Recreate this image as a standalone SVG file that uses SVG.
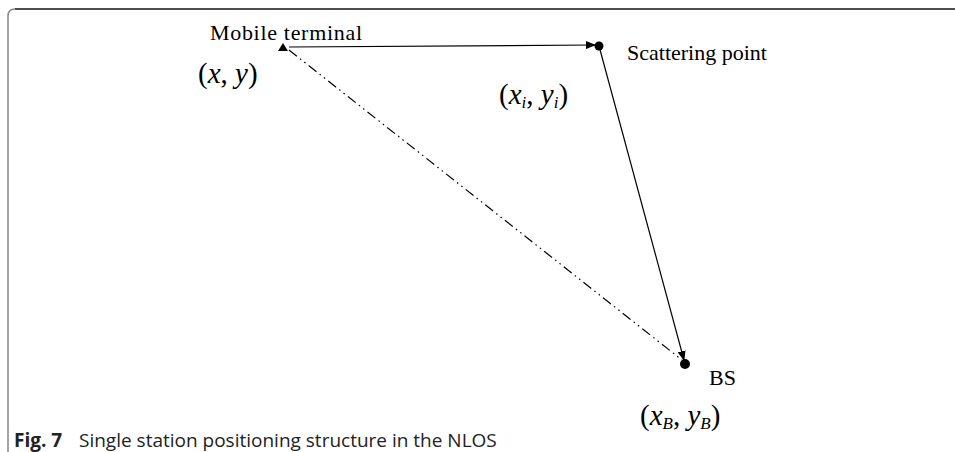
<svg xmlns="http://www.w3.org/2000/svg" width="955" height="452" viewBox="0 0 955 452">
<style>
.lbl{font-family:"Liberation Serif","Times New Roman",serif;font-size:22px;fill:#000}
.math{font-family:"Liberation Serif","Times New Roman",serif;font-size:29px;fill:#000}
.it{font-style:italic}
.sub{font-family:"Liberation Serif",serif;font-style:italic;font-size:17px}
.cap{font-family:"Open Sans","Noto Sans",sans-serif;font-size:19px;fill:#222}
.edge{stroke:#000;stroke-width:1.2;fill:none}
</style>
<defs>
<marker id="ah" markerWidth="10" markerHeight="8" refX="9" refY="4" orient="auto" markerUnits="userSpaceOnUse">
<path d="M0,0 L10,4 L0,8 z" fill="#000"/>
</marker>
</defs>
<path d="M8,452 V16 Q8,9 15,9 H955" fill="none" stroke="#888" stroke-width="1.5"/>
<path d="M15,9 H955" fill="none" stroke="#333" stroke-width="1.5"/>
<g id="connectors">
<line class="edge" x1="289" y1="47" x2="595" y2="45" marker-end="url(#ah)"/>
<line class="edge" x1="599" y1="46" x2="684" y2="360" marker-end="url(#ah)"/>
<line class="edge" x1="289" y1="50" x2="682" y2="360" stroke-dasharray="10,4,1.5,4,1.5,4" stroke-width="1"/>
</g>
<g id="mobile">
<path d="M283,43 L288,51 L278,51 z" fill="#000"/>
<text class="lbl" x="210" y="40" textLength="152">Mobile terminal</text>
<text class="math" x="198" y="83">(<tspan class="it">x</tspan>, <tspan class="it">y</tspan>)</text>
</g>
<g id="scatter">
<circle cx="599" cy="46" r="4.5" fill="#000"/>
<text class="lbl" x="627" y="60">Scattering point</text>
<text class="math" x="499" y="104">(<tspan class="it">x</tspan><tspan class="sub" dy="4">i</tspan><tspan dy="-4">, </tspan><tspan class="it">y</tspan><tspan class="sub" dy="4">i</tspan><tspan dy="-4">)</tspan></text>
</g>
<g id="bs">
<circle cx="685" cy="364" r="5" fill="#000"/>
<text class="lbl" x="709" y="385">BS</text>
<text class="math" x="640" y="425">(<tspan class="it">x</tspan><tspan class="sub" dy="4">B</tspan><tspan dy="-4">, </tspan><tspan class="it">y</tspan><tspan class="sub" dy="4">B</tspan><tspan dy="-4">)</tspan></text>
</g>
<text class="cap" x="14" y="447"><tspan font-weight="bold">Fig. 7</tspan><tspan x="79">Single station positioning structure in the NLOS</tspan></text>
</svg>
